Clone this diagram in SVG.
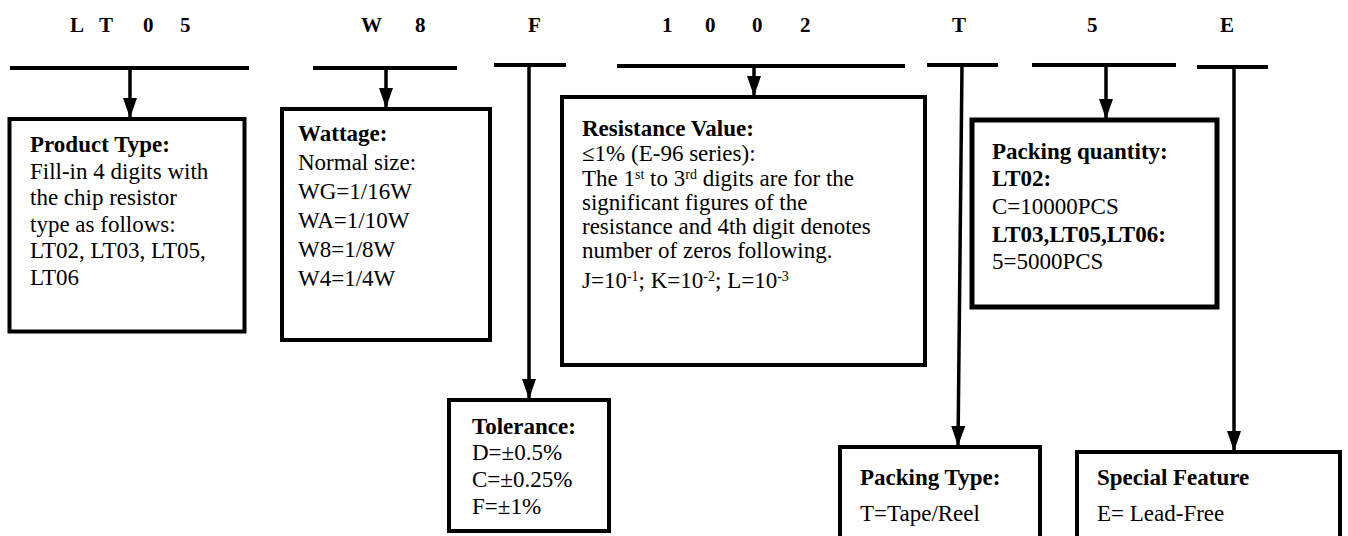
<svg xmlns="http://www.w3.org/2000/svg" width="1348" height="536" viewBox="0 0 1348 536">
<defs>
<marker id="ah" viewBox="0 0 20 14" refX="20" refY="7" markerWidth="20" markerHeight="14" markerUnits="userSpaceOnUse" orient="auto">
<path d="M0,0 L20,7 L0,14 Z" fill="#000"/>
</marker>
<style>
.code{font-family:"Liberation Serif","Times New Roman",serif;font-weight:bold;font-size:21px;fill:#000}
.t{font-family:"Liberation Serif","Times New Roman",serif;font-size:23px;fill:#000}
.b{font-weight:bold}
.box{fill:#fff;stroke:#000;stroke-width:4}
.bar{stroke:#000;stroke-width:4;fill:none}
.conn{stroke:#000;stroke-width:3.5;fill:none}
.sup{font-size:14px}
</style>
</defs>
<rect width="1348" height="536" fill="#fff"/>
<g id="codes">
<text class="code" x="70" y="32">L</text>
<text class="code" x="99" y="32">T</text>
<text class="code" x="143" y="32">0</text>
<text class="code" x="180" y="32">5</text>
<text class="code" x="361" y="32">W</text>
<text class="code" x="415" y="32">8</text>
<text class="code" x="528" y="32">F</text>
<text class="code" x="662" y="32">1</text>
<text class="code" x="705" y="32">0</text>
<text class="code" x="752" y="32">0</text>
<text class="code" x="800" y="32">2</text>
<text class="code" x="952" y="32">T</text>
<text class="code" x="1087" y="32">5</text>
<text class="code" x="1220" y="32">E</text>
</g>
<g id="bars">
<line class="bar" x1="10" y1="68" x2="249" y2="68"/>
<line class="bar" x1="313" y1="68" x2="457" y2="68"/>
<line class="bar" x1="494" y1="65" x2="566" y2="65"/>
<line class="bar" x1="617" y1="66" x2="905" y2="66"/>
<line class="bar" x1="927" y1="65" x2="998" y2="65"/>
<line class="bar" x1="1032" y1="65" x2="1176" y2="65"/>
<line class="bar" x1="1197" y1="67" x2="1268" y2="67"/>
</g>
<g id="product-type">
<rect class="box" x="9.5" y="119" width="235" height="212.5"/>
<text class="t"><tspan class="b" x="30" y="152">Product Type:</tspan><tspan x="30" y="178.5">Fill-in 4 digits with</tspan><tspan x="30" y="205">the chip resistor</tspan><tspan x="30" y="231.5">type as follows:</tspan><tspan x="30" y="258">LT02, LT03, LT05,</tspan><tspan x="30" y="284.5">LT06</tspan></text>
</g>
<g id="wattage">
<rect class="box" x="282" y="109" width="208" height="231"/>
<text class="t"><tspan class="b" x="298" y="141">Wattage:</tspan><tspan x="298" y="170">Normal size:</tspan><tspan x="298" y="199">WG=1/16W</tspan><tspan x="298" y="228">WA=1/10W</tspan><tspan x="298" y="257">W8=1/8W</tspan><tspan x="298" y="286">W4=1/4W</tspan></text>
</g>
<g id="resistance">
<rect class="box" x="562" y="97" width="363" height="268"/>
<text class="t"><tspan class="b" x="582" y="136">Resistance Value:</tspan><tspan x="582" y="161">≤1% (E-96 series):</tspan><tspan x="582" y="186">The 1<tspan class="sup" baseline-shift="super">st</tspan> to 3<tspan class="sup" baseline-shift="super">rd</tspan> digits are for the</tspan><tspan x="582" y="210">significant figures of the</tspan><tspan x="582" y="234">resistance and 4th digit denotes</tspan><tspan x="582" y="258">number of zeros following.</tspan><tspan x="582" y="288">J=10<tspan class="sup" baseline-shift="super">-1</tspan>; K=10<tspan class="sup" baseline-shift="super">-2</tspan>; L=10<tspan class="sup" baseline-shift="super">-3</tspan></tspan></text>
</g>
<g id="packing-quantity">
<rect class="box" x="972" y="120" width="245" height="187" style="stroke-width:5"/>
<text class="t"><tspan class="b" x="992" y="159">Packing quantity:</tspan><tspan class="b" x="992" y="186">LT02:</tspan><tspan x="992" y="214">C=10000PCS</tspan><tspan class="b" x="992" y="242">LT03,LT05,LT06:</tspan><tspan x="992" y="269">5=5000PCS</tspan></text>
</g>
<g id="tolerance">
<rect class="box" x="449" y="400" width="160" height="131"/>
<text class="t"><tspan class="b" x="472" y="434">Tolerance:</tspan><tspan x="472" y="460">D=±0.5%</tspan><tspan x="472" y="487">C=±0.25%</tspan><tspan x="472" y="514">F=±1%</tspan></text>
</g>
<g id="packing-type">
<rect class="box" x="840" y="447" width="200" height="100"/>
<text class="t"><tspan class="b" x="860" y="485">Packing Type:</tspan><tspan x="860" y="521">T=Tape/Reel</tspan></text>
</g>
<g id="special-feature">
<rect class="box" x="1077" y="452" width="263" height="100"/>
<text class="t"><tspan class="b" x="1097" y="485">Special Feature</tspan><tspan x="1097" y="521">E= Lead-Free</tspan></text>
</g>
<g id="connectors">
<line class="conn" x1="130" y1="68" x2="130" y2="118" marker-end="url(#ah)"/>
<line class="conn" x1="386" y1="68" x2="386" y2="108" marker-end="url(#ah)"/>
<line class="conn" x1="529" y1="65" x2="529" y2="399" marker-end="url(#ah)"/>
<line class="conn" x1="754" y1="66" x2="754" y2="96" marker-end="url(#ah)"/>
<line class="conn" x1="962" y1="65" x2="958" y2="446" marker-end="url(#ah)"/>
<line class="conn" x1="1106" y1="65" x2="1106" y2="119" marker-end="url(#ah)"/>
<line class="conn" x1="1234" y1="67" x2="1234" y2="451" marker-end="url(#ah)"/>
</g>
</svg>
